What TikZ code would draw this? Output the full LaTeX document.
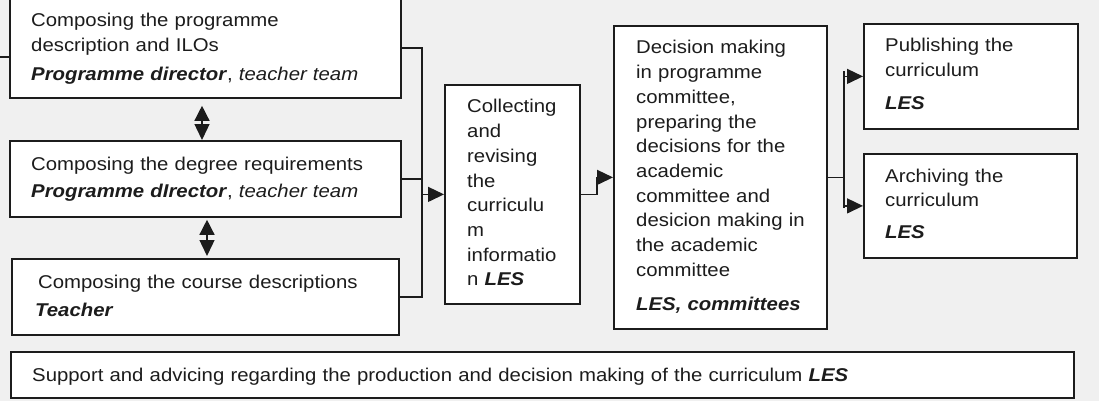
\documentclass[tikz,border=0pt]{standalone}
\usepackage{fontspec}
\setmainfont{Liberation Sans}[FakeStretch=1.1]
\usetikzlibrary{arrows.meta}
\definecolor{bg}{HTML}{F0F0F0}
\definecolor{ink}{HTML}{1C1C1C}
\tikzset{
  boxnode/.style={draw=ink, fill=white, line width=1.8pt, inner sep=0pt, anchor=north west},
  txt/.style={anchor=base west, inner sep=0pt, text width=420pt, align=left, text=ink,
              font=\fontsize{18.5pt}{24.7pt}\selectfont},
  conn/.style={draw=ink, line width=1.4pt},
  arr/.style={conn, -{Triangle[length=16pt,width=15pt]}},
  dbl/.style={conn, {Triangle[length=15pt,width=15pt]}-{Triangle[length=16pt,width=15pt]}},
}
\newcommand{\bi}[1]{\textbf{\textit{#1}}}
\begin{document}
\begin{tikzpicture}[x=1pt,y=-1pt]
\fill[bg] (0,0) rectangle (1099,401);
\useasboundingbox (0,0) rectangle (1099,401);

% boxes
\node[boxnode, minimum width=391pt, minimum height=100pt] (b1) at (9,-3) {};
\node[boxnode, minimum width=391pt, minimum height=76pt] (b2) at (9,140) {};
\node[boxnode, minimum width=387pt, minimum height=76pt] (b3) at (11,258) {};
\node[boxnode, minimum width=135pt, minimum height=219pt] (coll) at (444,84) {};
\node[boxnode, minimum width=213pt, minimum height=303pt] (dec) at (613,25) {};
\node[boxnode, minimum width=214pt, minimum height=105pt] (pub) at (863,23) {};
\node[boxnode, minimum width=213pt, minimum height=104pt] (arc) at (863,153) {};
\node[boxnode, minimum width=1063pt, minimum height=46pt] (sup) at (10,351) {};

% texts
\node[txt] (t1) at (31,27) {Composing the programme\\ description and ILOs\\[4pt]\bi{Programme director}, \textit{teacher team}};
\node[txt] (t2) at (31,170) {Composing the degree requirements\\[3pt]\bi{Programme dIrector}, \textit{teacher team}};
\node[txt] (t3) at (38,288) {Composing the course descriptions\\[4pt]\hspace*{-3pt}\bi{Teacher}};
\node[txt] (tc) at (467,113) {Collecting\\ and\\ revising\\ the\\ curriculu\\ m\\ informatio\\ n \bi{LES}};
\node[txt] (td) at (636,54) {Decision making\\ in programme\\ committee,\\ preparing the\\ decisions for the\\ academic\\ committee and\\ desicion making in\\ the academic\\ committee\\[9pt]\bi{LES, committees}};
\node[txt] (tp) at (885,52) {Publishing the\\ curriculum\\[8pt]\bi{LES}};
\node[txt] (ta) at (885,182) {Archiving the\\ curriculum\\[7pt]\bi{LES}};
\node[txt, text width=1030pt] (ts) at (32,381) {Support and advicing regarding the production and decision making of the curriculum \bi{LES}};

% junction columns
\coordinate (j0) at (0,57);
\coordinate (j1) at (422,0);
\coordinate (j2) at (597,0);
\coordinate (j3) at (844,0);
\coordinate (d1) at (202,0);
\coordinate (d2) at (207,0);

% left stub
\draw[conn] (j0) -- (j0 -| b1.west);

% double arrows
\draw[dbl, shorten <=7pt] (b1.south -| d1) -- (b2.north -| d1);
\draw[dbl, shorten <=2pt, shorten >=2pt] (b2.south -| d2) -- (b3.north -| d2);

% left bus
\draw[conn] (b1.east) -- (b1.east -| j1) -- (b3.east -| j1) -- (b3.east);
\draw[conn] (b2.east) -- (b2.east -| j1);
\draw[arr] (coll.west -| j1) -- (coll.west);

% collecting -> decision
\draw[arr] (coll.east) -- (coll.east -| j2) -- (dec.west -| j2) -- (dec.west);

% decision -> publishing / archiving
\draw[conn] (dec.east) -- (dec.east -| j3);
\draw[conn] ([yshift=5pt]pub.west -| j3) -- ([yshift=-2pt]arc.west -| j3);
\draw[arr] (pub.west -| j3) -- (pub.west);
\draw[arr] (arc.west -| j3) -- (arc.west);
\end{tikzpicture}
\end{document}
